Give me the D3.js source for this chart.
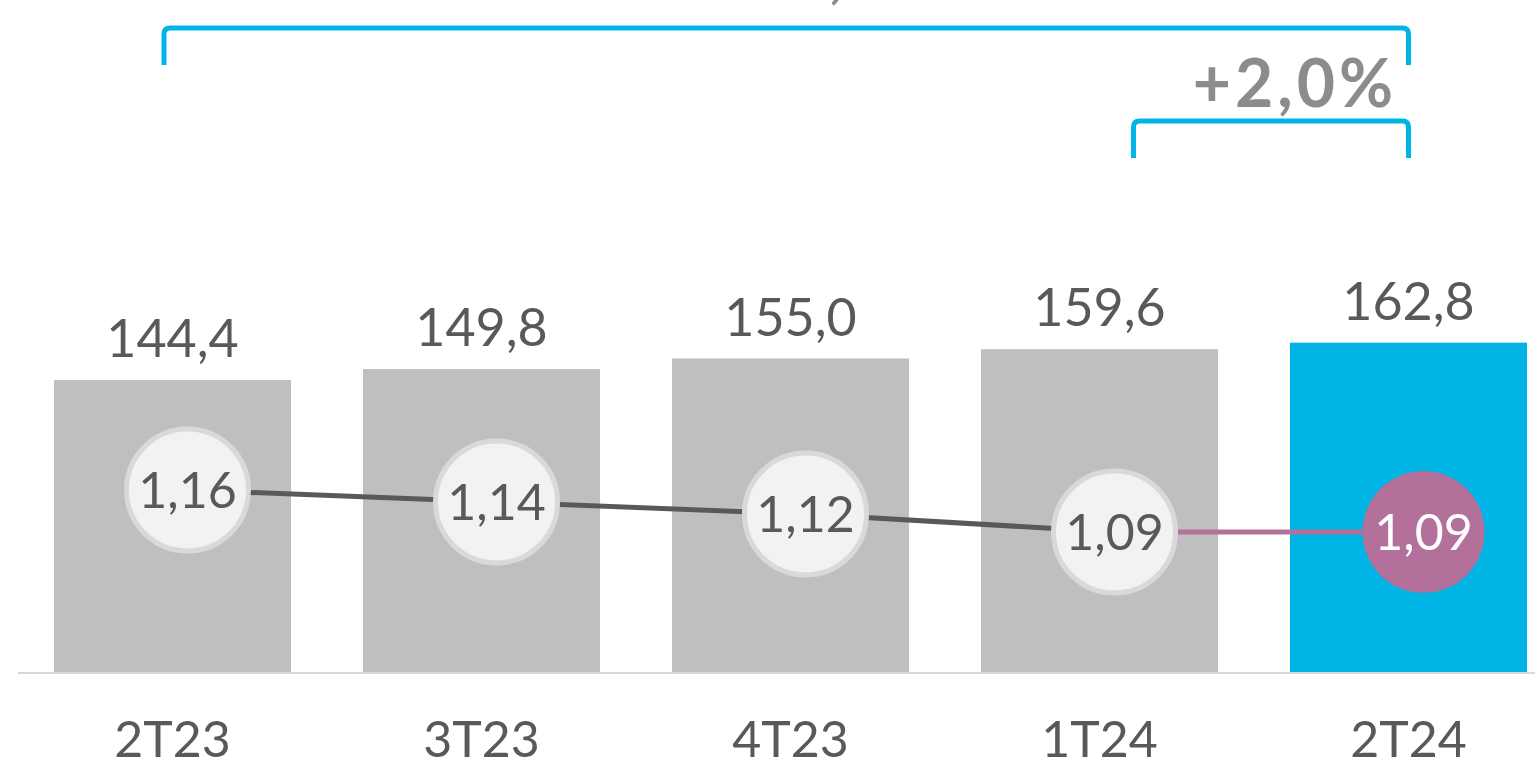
<!DOCTYPE html>
<html>
<head>
<meta charset="utf-8">
<script src="https://cdn.jsdelivr.net/npm/d3@7"></script>
<style>
  html, body { margin: 0; padding: 0; background: #ffffff; overflow: hidden; }
  svg { display: block; }
  text { font-family: Lato, "Noto Sans", sans-serif; }
</style>
</head>
<body>
<svg id="chart" width="1535" height="762"></svg>
<script>
// ---- data ----
const categories = ["2T23", "3T23", "4T23", "1T24", "2T24"];
const barValues = [144.4, 149.8, 155.0, 159.6, 162.8];
const barLabels = ["144,4", "149,8", "155,0", "159,6", "162,8"];
const ratioValues = [1.16, 1.14, 1.12, 1.09, 1.09];
const ratioLabels = ["1,16", "1,14", "1,12", "1,09", "1,09"];
const bracketFrom = ["2T23", "1T24"];
const bracketTo = ["2T24", "2T24"];
const bracketLabels = ["+12,7%", "+2,0%"];

// ---- styles ----
const grey = "#bfbfbf", cyan = "#00b5e5", text = "#595959", pink = "#b3709a";

const svg = d3.select("#chart");
const baseY = 673;

const x = d3.scaleBand().domain(categories).range([18, 1563]).paddingInner(0.233).paddingOuter(0.1165);
const y = d3.scaleLinear().domain([0, 200]).range([baseY, baseY - 200 * 2.029]);
const y2 = d3.scaleLinear().domain([0.85, 1.3]).range([baseY + 3, baseY + 3 - 0.45 * 600]);
const lineOffset = 15;
const lx = c => x(c) + x.bandwidth() / 2 + lineOffset;

// bars
svg.append("g").selectAll("rect").data(categories).join("rect")
  .attr("x", d => x(d))
  .attr("y", (d, i) => y(barValues[i]))
  .attr("width", x.bandwidth())
  .attr("height", (d, i) => baseY - y(barValues[i]))
  .attr("fill", (d, i) => i === categories.length - 1 ? cyan : grey);

// bar value labels
svg.append("g").selectAll("text").data(categories).join("text")
  .attr("x", d => x(d) + x.bandwidth() / 2)
  .attr("y", (d, i) => y(barValues[i]) - 23)
  .attr("text-anchor", "middle")
  .attr("font-size", 52)
  .attr("fill", text)
  .text((d, i) => barLabels[i]);

// axis
const axis = svg.append("g").attr("transform", `translate(0,${baseY})`)
  .call(d3.axisBottom(x).tickSize(0).tickPadding(48));
axis.select(".domain").attr("stroke", "#d9d9d9").attr("stroke-width", 2)
  .attr("d", "M18,0H1535");
axis.selectAll("text").attr("font-size", 50).attr("fill", text)
  .attr("font-family", "Lato, 'Noto Sans', sans-serif");

// lines
const n = categories.length;
const pts = categories.map((c, i) => [lx(c), y2(ratioValues[i])]);
const line = d3.line();
svg.append("path").attr("d", line(pts.slice(0, n - 1)))
  .attr("fill", "none").attr("stroke", "#595959").attr("stroke-width", 5);
svg.append("path").attr("d", line(pts.slice(n - 2)))
  .attr("fill", "none").attr("stroke", pink).attr("stroke-width", 5);

// circles
svg.append("g").selectAll("circle").data(categories).join("circle")
  .attr("cx", d => lx(d))
  .attr("cy", (d, i) => y2(ratioValues[i]))
  .attr("r", 61)
  .attr("fill", (d, i) => i === n - 1 ? pink : "#f2f2f2")
  .attr("stroke", (d, i) => i === n - 1 ? "none" : "#d9d9d9")
  .attr("stroke-width", 5);

svg.append("g").selectAll("text").data(categories).join("text")
  .attr("x", d => lx(d))
  .attr("y", (d, i) => y2(ratioValues[i]) + 18)
  .attr("text-anchor", "middle")
  .attr("font-size", 50)
  .attr("fill", (d, i) => i === n - 1 ? "#ffffff" : text)
  .text((d, i) => ratioLabels[i]);

// brackets
const bracketTopY = [28, 121];
const bracketDrop = 37;
bracketFrom.forEach((from, i) => {
  const x0 = i === 0 ? x(from) + x.bandwidth() / 2 - 8.5 : x(from) + x.bandwidth() / 2 + 34;
  const x1 = x(bracketTo[i]) + x.bandwidth() / 2;
  const ty = bracketTopY[i], r = 6;
  const p = d3.path();
  p.moveTo(x0, ty + bracketDrop);
  p.lineTo(x0, ty + r);
  p.quadraticCurveTo(x0, ty, x0 + r, ty);
  p.lineTo(x1 - r, ty);
  p.quadraticCurveTo(x1, ty, x1, ty + r);
  p.lineTo(x1, ty + bracketDrop);
  svg.append("path").attr("d", p.toString())
    .attr("fill", "none").attr("stroke", cyan).attr("stroke-width", 5);
});

// bracket labels
svg.append("text")
  .attr("x", 825).attr("y", -4)
  .attr("text-anchor", "middle")
  .attr("font-size", 66).attr("font-weight", 700)
  .attr("font-family", "'Liberation Sans', Arial, sans-serif")
  .attr("fill", "#8c8c8c")
  .text(bracketLabels[0]);
svg.append("text")
  .attr("x", 1295).attr("y", 107)
  .attr("text-anchor", "middle")
  .attr("font-size", 66).attr("font-weight", 700)
  .attr("font-family", "'Liberation Sans', Arial, sans-serif")
  .attr("letter-spacing", 4)
  .attr("fill", "#8c8c8c")
  .text(bracketLabels[1]);
</script>
</body>
</html>
